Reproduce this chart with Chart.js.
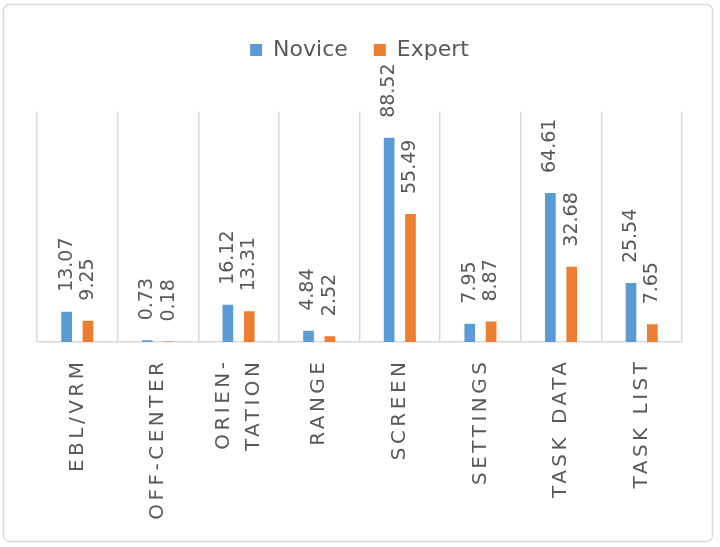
<!DOCTYPE html>
<html>
<head>
<meta charset="utf-8">
<script src="https://cdn.jsdelivr.net/npm/chart.js@4"></script>
<style>
  html, body { margin: 0; padding: 0; background: #fff; }
  #chart { display: block; }
</style>
</head>
<body>
<canvas id="chart" width="720" height="547"></canvas>
<script>
// categories and values
const categories = ['EBL/VRM', 'OFF-CENTER', ['ORIEN-', 'TATION'], 'RANGE', 'SCREEN', 'SETTINGS', 'TASK DATA', 'TASK LIST'];
const novice = [13.07, 0.73, 16.12, 4.84, 88.52, 7.95, 64.61, 25.54];
const expert = [9.25, 0.18, 13.31, 2.52, 55.49, 8.87, 32.68, 7.65];

const textColor = '#595959';
const gridColor = '#d9d9d9';
const fontFamily = '"DejaVu Sans", sans-serif';

// white background and the rounded frame round the chart
const frame = {
  id: 'frame',
  beforeDraw(chart) {
    const ctx = chart.ctx;
    ctx.save();
    ctx.fillStyle = '#fff';
    ctx.fillRect(0, 0, chart.width, chart.height);
    ctx.strokeStyle = gridColor;
    ctx.lineWidth = 1.5;
    ctx.beginPath();
    ctx.roundRect(3.5, 4.5, 709, 537, 6);
    ctx.stroke();
    ctx.restore();
  }
};

// rotated value labels over each bar
const valueLabels = {
  id: 'valueLabels',
  afterDatasetsDraw(chart) {
    const ctx = chart.ctx;
    ctx.save();
    ctx.fillStyle = textColor;
    ctx.font = '19px ' + fontFamily;
    ctx.textAlign = 'left';
    ctx.textBaseline = 'middle';
    chart.data.datasets.forEach((ds, di) => {
      chart.getDatasetMeta(di).data.forEach((bar, i) => {
        ctx.save();
        ctx.translate(bar.x, bar.y - 20);
        ctx.rotate(-Math.PI / 2);
        ctx.fillText(ds.data[i].toFixed(2), 0, 0);
        ctx.restore();
      });
    });
    ctx.restore();
  }
};

// spaced-out category labels under the axis
const categoryLabels = {
  id: 'categoryLabels',
  afterDraw(chart) {
    const ctx = chart.ctx;
    const xScale = chart.scales.x;
    const top = chart.chartArea.bottom + 20;
    ctx.save();
    ctx.fillStyle = textColor;
    ctx.font = '20px ' + fontFamily;
    ctx.letterSpacing = '3.5px';
    ctx.textAlign = 'right';
    ctx.textBaseline = 'middle';
    categories.forEach((label, i) => {
      const lines = Array.isArray(label) ? label : [label];
      const x = xScale.getPixelForTick(i);
      ctx.save();
      ctx.translate(x, top);
      ctx.rotate(-Math.PI / 2);
      lines.forEach((line, j) => {
        const off = (j - (lines.length - 1) / 2) * 30;
        ctx.fillText(line, 3.5, off);
      });
      ctx.restore();
    });
    ctx.restore();
  }
};

new Chart(document.getElementById('chart'), {
  type: 'bar',
  data: {
    labels: categories,
    datasets: [
      { label: 'Novice', data: novice, backgroundColor: '#5b9bd5' },
      { label: 'Expert', data: expert, backgroundColor: '#ed7d31' }
    ]
  },
  options: {
    responsive: false,
    animation: false,
    devicePixelRatio: 1,
    layout: { padding: { top: 13, left: 37, right: 38, bottom: 205 } },
    datasets: { bar: { categoryPercentage: 0.53, barPercentage: 0.5 } },
    plugins: {
      legend: {
        position: 'top',
        labels: {
          boxWidth: 12,
          boxHeight: 12,
          padding: 26,
          color: textColor,
          font: { family: fontFamily, size: 22 }
        }
      },
      // empty spacer between legend and plot
      subtitle: { display: true, text: '', weight: 500, padding: 13 },
      tooltip: { enabled: false }
    },
    scales: {
      x: {
        offset: true,
        grid: { offset: true, color: gridColor, lineWidth: 1.5, drawTicks: false },
        border: { color: gridColor, width: 1.5 },
        ticks: { display: false }
      },
      y: {
        display: false,
        min: 0,
        max: 100
      }
    }
  },
  plugins: [frame, valueLabels, categoryLabels]
});
</script>
</body>
</html>
